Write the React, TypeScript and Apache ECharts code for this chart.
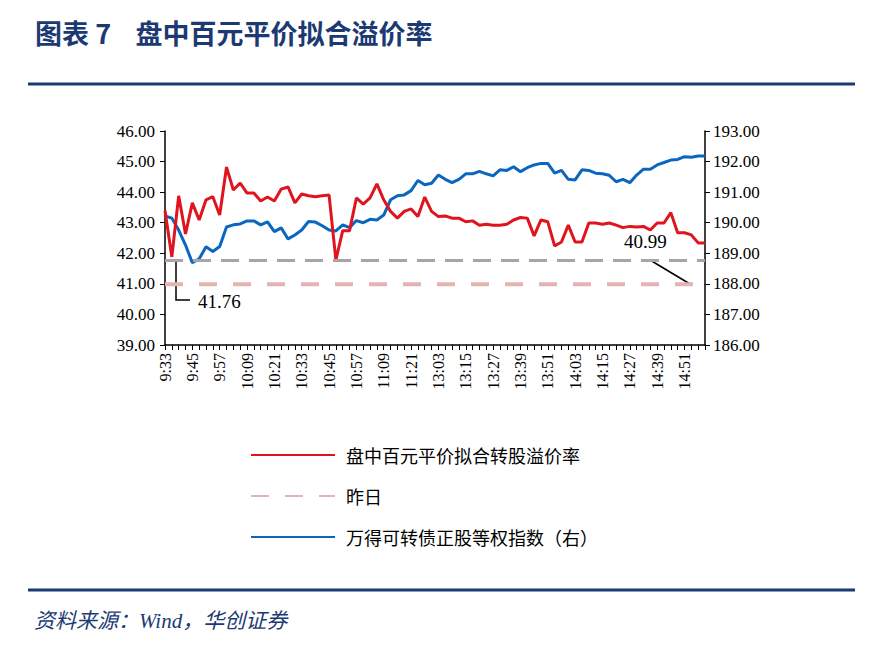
import React, { useEffect, useRef } from "react";
import * as echarts from "echarts";

// 3-minute points; the lunch break is skipped (11:30 -> 13:03)
const morningStart = 9 * 60 + 33;
const afternoonStart = 13 * 60 + 3;
const fmt = (m: number) => `${Math.floor(m / 60)}:${String(m % 60).padStart(2, "0")}`;
const times: string[] = [];
for (let i = 0; i < 40; i++) times.push(fmt(morningStart + i * 3));
for (let i = 0; i < 40; i++) times.push(fmt(afternoonStart + i * 3));

const premium = [
  43.39, 41.88, 43.88, 42.63, 43.65, 43.09, 43.75, 43.85, 43.25, 44.82,
  44.07, 44.3, 43.97, 43.97, 43.71, 43.84, 43.71, 44.1, 44.17, 43.65,
  43.94, 43.88, 43.85, 43.88, 43.91, 41.78, 42.74, 42.74, 43.81, 43.61,
  43.81, 44.27, 43.75, 43.37, 43.15, 43.37, 43.45, 43.2, 43.84, 43.37,
  43.2, 43.22, 43.15, 43.15, 43.03, 43.06, 42.92, 42.95, 42.92, 42.92,
  42.95, 43.09, 43.17, 43.15, 42.57, 43.09, 43.03, 42.24, 42.37, 42.92,
  42.37, 42.37, 42.99, 42.99, 42.95, 42.99, 42.92, 42.84, 42.88, 42.86,
  42.88, 42.76, 42.99, 42.99, 43.33, 42.67, 42.67, 42.6, 42.34, 42.34,
];

const index = [
  190.22, 190.15, 189.76, 189.27, 188.69, 188.82, 189.21, 189.06, 189.22, 189.86,
  189.93, 189.96, 190.06, 190.06, 189.93, 190.03, 189.71, 189.83, 189.47, 189.6,
  189.76, 190.04, 190.02, 189.9, 189.76, 189.73, 189.93, 189.84, 190.07, 190.0,
  190.11, 190.09, 190.25, 190.75, 190.88, 190.91, 191.05, 191.38, 191.24, 191.29,
  191.56, 191.42, 191.31, 191.42, 191.6, 191.6, 191.68, 191.6, 191.53, 191.73,
  191.71, 191.83, 191.67, 191.8, 191.89, 191.94, 191.94, 191.62, 191.71, 191.42,
  191.4, 191.73, 191.71, 191.62, 191.6, 191.55, 191.34, 191.42, 191.31, 191.56,
  191.75, 191.75, 191.89, 191.97, 192.05, 192.07, 192.16, 192.14, 192.18, 192.18,
];

const todayLow = 41.76;
const yesterday = 40.99;
const yesterdayLine = times.map(() => yesterday);

const NAVY = "#1b3a73";
const SERIF = "'Liberation Serif', 'Times New Roman', serif";
const CJK = "'Noto Sans CJK SC', sans-serif";

const App: React.FC = () => {
  const chartRef = useRef<HTMLDivElement>(null);

  useEffect(() => {
    document.body.style.margin = "0";
    if (!chartRef.current) return;
    const chart = echarts.init(chartRef.current, undefined, { renderer: "svg" });

    chart.setOption({
      animation: false,
      backgroundColor: "#fff",
      title: {
        text: "图表 7    盘中百元平价拟合溢价率",
        left: 30,
        top: 14,
        textStyle: { color: NAVY, fontSize: 27, fontWeight: "bold", fontFamily: CJK },
      },
      grid: { left: 165, right: 169, top: 131, bottom: 304 },
      legend: {
        orient: "vertical",
        left: 245,
        top: 441,
        itemGap: 23,
        itemWidth: 84,
        itemHeight: 20,
        itemStyle: { opacity: 0 },
        textStyle: { fontSize: 18, fontFamily: CJK, color: "#000", padding: [0, 0, 0, 6] },
        data: ["盘中百元平价拟合转股溢价率", "昨日", "万得可转债正股等权指数（右）"],
      },
      xAxis: {
        type: "category",
        data: times,
        boundaryGap: false,
        axisLine: { lineStyle: { color: "#000", width: 1.5 } },
        axisTick: { interval: 0, length: 5, lineStyle: { color: "#000" } },
        axisLabel: { interval: 3, rotate: 90, fontSize: 16, fontFamily: SERIF, color: "#000", margin: 8 },
      },
      yAxis: [
        {
          type: "value",
          min: 39,
          max: 46,
          interval: 1,
          splitLine: { show: false },
          axisLine: { show: true, lineStyle: { color: "#000", width: 1.5 } },
          axisTick: { show: true, length: 5, lineStyle: { color: "#000" } },
          axisLabel: { formatter: (v: number) => v.toFixed(2), fontSize: 17, fontFamily: SERIF, color: "#000", margin: 10 },
        },
        {
          type: "value",
          min: 186,
          max: 193,
          interval: 1,
          splitLine: { show: false },
          axisLine: { show: true, lineStyle: { color: "#000", width: 1.5 } },
          axisTick: { show: true, length: 5, lineStyle: { color: "#000" } },
          axisLabel: { formatter: (v: number) => v.toFixed(2), fontSize: 17, fontFamily: SERIF, color: "#000", margin: 8 },
        },
      ],
      series: [
        {
          name: "盘中百元平价拟合转股溢价率",
          type: "line",
          data: premium,
          symbol: "none",
          color: "#e0141e",
          lineStyle: { width: 3, color: "#e0141e" },
          z: 3,
          markLine: {
            silent: true,
            symbol: "none",
            label: { show: false },
            lineStyle: { color: "#a6a6a6", type: [18, 10], width: 3 },
            data: [{ yAxis: todayLow }],
          },
        },
        {
          name: "昨日",
          type: "line",
          data: yesterdayLine,
          symbol: "none",
          color: "#e6b3b3",
          lineStyle: { width: 4, color: "#e6b3b3", type: [18, 16] },
          z: 1,
        },
        {
          name: "万得可转债正股等权指数（右）",
          type: "line",
          yAxisIndex: 1,
          data: index,
          symbol: "none",
          color: "#0a66bf",
          lineStyle: { width: 3, color: "#0a66bf" },
          z: 2,
        },
      ],
      graphic: [
        { type: "line", shape: { x1: 28, y1: 84, x2: 855, y2: 84 }, style: { stroke: NAVY, lineWidth: 3 } },
        { type: "line", shape: { x1: 28, y1: 590, x2: 855, y2: 590 }, style: { stroke: NAVY, lineWidth: 3 } },
        {
          type: "polyline",
          shape: { points: [[176, 262], [176, 300], [190, 300]] },
          style: { stroke: "#000", lineWidth: 1.5, fill: "none" },
        },
        {
          type: "text",
          x: 198,
          y: 292,
          style: { text: todayLow.toFixed(2), font: `19px ${SERIF}`, fill: "#000" },
        },
        {
          type: "line",
          shape: { x1: 650, y1: 260, x2: 690, y2: 284 },
          style: { stroke: "#000", lineWidth: 1.5 },
        },
        {
          type: "text",
          x: 624,
          y: 232,
          style: { text: yesterday.toFixed(2), font: `19px ${SERIF}`, fill: "#000" },
        },
        {
          type: "text",
          x: 34,
          y: 610,
          style: { text: "资料来源：Wind，华创证券", font: `italic 21px ${SERIF}, ${CJK}`, fill: NAVY },
        },
      ],
    });

    return () => chart.dispose();
  }, []);

  return <div ref={chartRef} style={{ width: 874, height: 649 }} />;
};

export default App;
